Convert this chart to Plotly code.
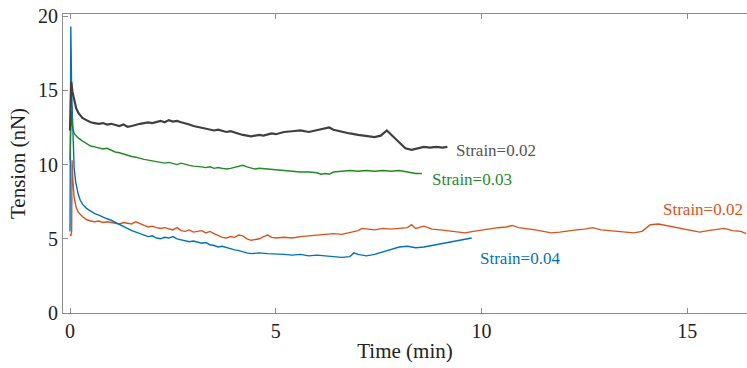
import plotly.graph_objects as go

# ---- data ----
gray_t = [0.00, 0.03, 0.06, 0.10, 0.15, 0.20, 0.25, 0.30, 0.40, 0.50, 0.60, 0.70, 0.80, 0.90,
          1.00, 1.10, 1.20, 1.30, 1.40, 1.50, 1.60, 1.70, 1.80, 1.90, 2.00, 2.10, 2.20, 2.30,
          2.40, 2.50, 2.60, 2.70, 2.80, 2.90, 3.00, 3.10, 3.20, 3.30, 3.40, 3.50, 3.60, 3.70,
          3.80, 3.90, 4.00, 4.10, 4.20, 4.30, 4.40, 4.50, 4.60, 4.70, 4.80, 4.90, 5.00, 5.20,
          5.40, 5.60, 5.80, 6.00, 6.10, 6.20, 6.30, 6.40, 6.60, 6.80, 7.00, 7.20, 7.40, 7.55,
          7.70, 7.85, 8.00, 8.15, 8.30, 8.45, 8.60, 8.75, 8.90, 9.05, 9.17]
gray_v = [12.3, 15.6, 14.9, 14.3, 13.8, 13.5, 13.3, 13.15, 13.0, 12.85, 12.8, 12.75, 12.8, 12.7,
          12.75, 12.65, 12.6, 12.7, 12.55, 12.6, 12.7, 12.75, 12.8, 12.85, 12.8, 12.9, 12.95, 12.85,
          13.0, 12.9, 12.95, 12.85, 12.8, 12.7, 12.6, 12.55, 12.45, 12.4, 12.35, 12.3, 12.35, 12.25,
          12.2, 12.25, 12.15, 12.1, 12.0, 11.95, 11.9, 11.95, 12.0, 11.95, 12.05, 12.1, 12.05, 12.2,
          12.25, 12.3, 12.2, 12.3, 12.35, 12.45, 12.5, 12.35, 12.2, 12.1, 12.0, 11.9, 11.85, 11.95,
          12.3, 11.9, 11.5, 11.1, 11.0, 11.1, 11.2, 11.15, 11.2, 11.15, 11.2]

green_t = [0.00, 0.03, 0.06, 0.10, 0.15, 0.20, 0.30, 0.40, 0.50, 0.60, 0.70, 0.80, 0.90, 1.00,
           1.10, 1.20, 1.30, 1.40, 1.50, 1.60, 1.70, 1.80, 1.90, 2.00, 2.10, 2.20, 2.30, 2.40,
           2.50, 2.60, 2.70, 2.80, 2.90, 3.00, 3.10, 3.20, 3.30, 3.40, 3.50, 3.60, 3.70, 3.80,
           3.90, 4.00, 4.10, 4.20, 4.30, 4.40, 4.50, 4.60, 4.80, 5.00, 5.20, 5.40, 5.60, 5.80,
           6.00, 6.10, 6.20, 6.30, 6.40, 6.60, 6.80, 7.00, 7.20, 7.40, 7.60, 7.80, 8.00, 8.20,
           8.40, 8.55]
green_v = [10.3, 13.6, 12.6, 12.1, 11.95, 11.8, 11.6, 11.4, 11.25, 11.2, 11.15, 11.05, 11.1, 10.95,
           10.85, 10.8, 10.7, 10.65, 10.55, 10.5, 10.4, 10.35, 10.3, 10.25, 10.2, 10.15, 10.1, 10.15,
           10.05, 10.0, 10.1, 10.0, 9.95, 9.9, 9.9, 9.85, 9.8, 9.85, 9.75, 9.8, 9.75, 9.7,
           9.75, 9.8, 9.9, 9.95, 9.85, 9.75, 9.7, 9.75, 9.7, 9.6, 9.55, 9.55, 9.5, 9.5,
           9.45, 9.35, 9.4, 9.35, 9.5, 9.55, 9.6, 9.55, 9.6, 9.55, 9.6, 9.55, 9.6, 9.5,
           9.4, 9.4]

blue_t = [0.00, 0.01, 0.02, 0.04, 0.07, 0.10, 0.14, 0.20, 0.25, 0.30, 0.40, 0.50, 0.60, 0.70,
          0.80, 0.90, 1.00, 1.10, 1.20, 1.30, 1.40, 1.50, 1.60, 1.70, 1.80, 1.90, 2.00, 2.10,
          2.20, 2.30, 2.40, 2.50, 2.60, 2.70, 2.80, 2.90, 3.00, 3.10, 3.20, 3.30, 3.40, 3.50,
          3.60, 3.70, 3.80, 3.90, 4.00, 4.10, 4.20, 4.30, 4.40, 4.60, 4.80, 5.00, 5.20, 5.40,
          5.60, 5.80, 6.00, 6.20, 6.40, 6.60, 6.80, 6.90, 7.00, 7.20, 7.40, 7.60, 7.80, 8.00,
          8.20, 8.40, 8.60, 8.80, 9.00, 9.20, 9.40, 9.60, 9.76]
blue_v = [5.5, 12.0, 19.3, 15.0, 11.5, 9.8, 8.8, 8.0, 7.6, 7.35, 7.05, 6.85, 6.7, 6.6,
          6.45, 6.35, 6.25, 6.1, 5.95, 5.8, 5.7, 5.55, 5.45, 5.35, 5.2, 5.15, 5.2, 5.05,
          5.0, 5.1, 5.05, 5.15, 5.0, 4.95, 4.9, 4.8, 4.85, 4.75, 4.7, 4.75, 4.6, 4.55,
          4.45, 4.5, 4.4, 4.3, 4.25, 4.2, 4.1, 4.05, 4.0, 4.05, 4.0, 4.0, 3.95, 3.9,
          3.95, 3.85, 3.9, 3.85, 3.8, 3.75, 3.8, 4.05, 3.95, 3.85, 3.95, 4.1, 4.3, 4.45,
          4.5, 4.4, 4.45, 4.55, 4.7, 4.75, 4.85, 4.95, 5.05]

orange_t = [0.00, 0.02, 0.04, 0.05, 0.07, 0.10, 0.15, 0.20, 0.30, 0.40, 0.50, 0.60, 0.70, 0.80,
            0.90, 1.00, 1.10, 1.20, 1.30, 1.40, 1.50, 1.60, 1.70, 1.80, 1.90, 2.00, 2.10, 2.20,
            2.30, 2.40, 2.50, 2.60, 2.70, 2.80, 2.90, 3.00, 3.10, 3.20, 3.30, 3.40, 3.50, 3.60,
            3.70, 3.80, 3.90, 4.00, 4.10, 4.20, 4.30, 4.40, 4.50, 4.60, 4.70, 4.80, 4.90, 5.00,
            5.20, 5.40, 5.60, 5.80, 6.00, 6.20, 6.40, 6.60, 6.80, 7.00, 7.10, 7.20, 7.40, 7.60,
            7.80, 8.00, 8.20, 8.30, 8.40, 8.60, 8.80, 9.00, 9.20, 9.40, 9.60, 9.80, 10.00, 10.20,
            10.40, 10.60, 10.75, 10.90, 11.10, 11.30, 11.50, 11.70, 11.90, 12.10, 12.30, 12.50,
            12.70, 12.90, 13.10, 13.30, 13.50, 13.70, 13.90, 14.00, 14.10, 14.30, 14.50, 14.70,
            14.90, 15.10, 15.30, 15.50, 15.70, 15.90, 16.10, 16.30, 16.43]
orange_v = [5.3, 5.2, 5.5, 10.3, 9.0, 7.8, 7.1, 6.8, 6.5, 6.3, 6.2, 6.15, 6.2, 6.1,
            6.15, 6.1, 6.05, 6.0, 6.1, 6.05, 6.0, 6.15, 6.0, 5.9, 5.8, 5.85, 5.75, 5.7,
            5.75, 5.65, 5.6, 5.75, 5.55, 5.5, 5.6, 5.45, 5.5, 5.55, 5.4, 5.5, 5.35, 5.2,
            5.1, 5.05, 5.15, 5.1, 5.25, 5.2, 5.0, 4.9, 4.95, 5.0, 5.15, 5.25, 5.1, 5.05,
            5.1, 5.05, 5.15, 5.2, 5.25, 5.3, 5.35, 5.3, 5.4, 5.55, 5.7, 5.65, 5.6, 5.7,
            5.65, 5.7, 5.75, 5.95, 5.7, 5.85, 5.65, 5.6, 5.55, 5.45, 5.4, 5.5, 5.6, 5.7,
            5.75, 5.8, 5.9, 5.75, 5.7, 5.6, 5.5, 5.4, 5.45, 5.55, 5.6, 5.65,
            5.75, 5.6, 5.55, 5.5, 5.45, 5.4, 5.5, 5.7, 5.95, 6.0, 5.9, 5.75,
            5.65, 5.55, 5.45, 5.55, 5.6, 5.7, 5.55, 5.5, 5.35]

labels = ["Strain=0.02", "Strain=0.03", "Strain=0.04", "Strain=0.02"]
x_ticks = [0, 5, 10, 15]
y_ticks = [0, 5, 10, 15, 20]

C_GRAY = "#3f3f3f"
C_GREEN = "#1f8a1f"
C_BLUE = "#0072BD"
C_ORANGE = "#D95319"
FONT = "Liberation Serif, Times New Roman, serif"

fig = go.Figure()
fig.add_trace(go.Scatter(x=orange_t, y=orange_v, mode="lines",
                         line=dict(color=C_ORANGE, width=1.4), showlegend=False))
fig.add_trace(go.Scatter(x=blue_t, y=blue_v, mode="lines",
                         line=dict(color=C_BLUE, width=1.4), showlegend=False))
fig.add_trace(go.Scatter(x=green_t, y=green_v, mode="lines",
                         line=dict(color=C_GREEN, width=1.4), showlegend=False))
fig.add_trace(go.Scatter(x=gray_t, y=gray_v, mode="lines",
                         line=dict(color=C_GRAY, width=2.2), showlegend=False))

ann = [
    (9.34, 10.98, labels[0], "#555555"),
    (8.74, 9.0, labels[1], C_GREEN),
    (9.92, 3.68, labels[2], C_BLUE),
    (14.36, 7.0, labels[3], C_ORANGE),
]
for x, y, t, c in ann:
    fig.add_annotation(x=x, y=y, text=t, showarrow=False, xanchor="left", yanchor="middle",
                       font=dict(family=FONT, size=17, color=c))

axis_common = dict(showgrid=False, zeroline=False, showline=True, linecolor="#8c8c8c",
                   linewidth=1, ticks="inside", ticklen=5, tickcolor="#8c8c8c",
                   automargin=False,
                   tickfont=dict(family=FONT, size=20, color="#222222"))

fig.update_xaxes(range=[-0.17, 16.45], tickvals=x_ticks, mirror="ticks",
                 title=dict(text="Time (min)", font=dict(family=FONT, size=21, color="#222222"),
                            standoff=2),
                 **axis_common)
fig.update_yaxes(range=[0, 20.15], tickvals=y_ticks, mirror=False,
                 title=dict(text="Tension (nN)", font=dict(family=FONT, size=21, color="#222222"),
                            standoff=6),
                 **axis_common)

fig.update_layout(width=747, height=368, margin=dict(l=63, r=0, t=14, b=55),
                  paper_bgcolor="white", plot_bgcolor="white",
                  font=dict(family=FONT))

# remove the browser's default 8px page margin so the figure sits at the window origin
fig.write_html("out.html", config={"displayModeBar": False},
               post_script="document.body.style.margin='0';")
